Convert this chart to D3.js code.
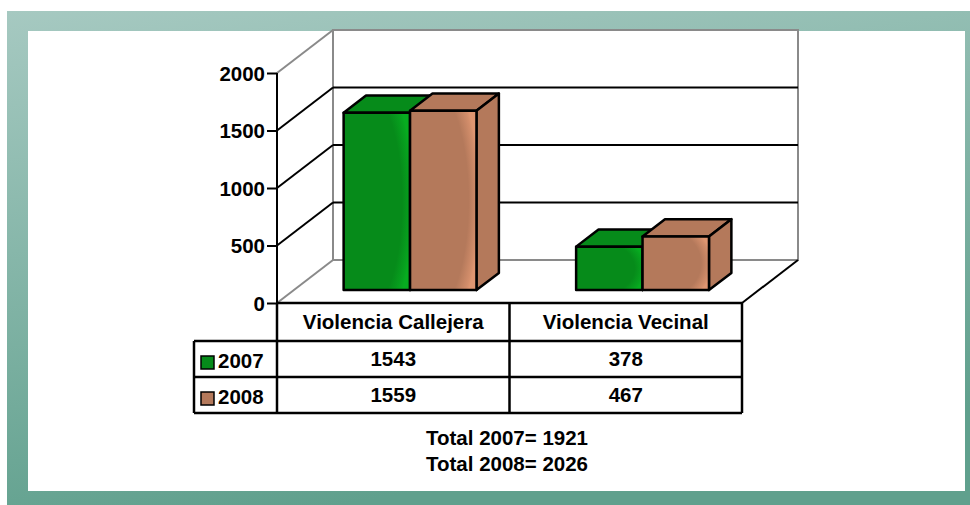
<!DOCTYPE html>
<html>
<head>
<meta charset="utf-8">
<script src="https://cdn.jsdelivr.net/npm/d3@7/dist/d3.min.js"></script>
<style>
body { margin: 0; background: #fff; }
svg text { font-family: Arial, "Liberation Sans", sans-serif; font-weight: bold; fill: #000; }
</style>
</head>
<body>
<script>
const categories = ["Violencia Callejera", "Violencia Vecinal"];
const series = ["2007", "2008"];
const values2007 = [1543, 378];
const values2008 = [1559, 467];
const yTicks = [0, 500, 1000, 1500, 2000];
const seriesColors = ["#068b1a", "#b4795b"];

const width = 970, height = 505;
const xLeft = 277, xRight = 742, yBottom = 303, yTopPx = 73;
const depthX = 56, depthY = 43;
const rows = [values2007, values2008];

const svg = d3.select("body").append("svg")
    .attr("width", width)
    .attr("height", height);

const defs = svg.append("defs");

// frame gradient
const frameGrad = defs.append("linearGradient")
    .attr("id", "frameGrad")
    .attr("x1", 0).attr("y1", 0).attr("x2", 0.3).attr("y2", 1);
frameGrad.append("stop").attr("offset", "0%").attr("stop-color", "#a6c9c1");
frameGrad.append("stop").attr("offset", "100%").attr("stop-color", "#60a08d");

// soft sheen on bar front faces
seriesColors.forEach((c, i) => {
    let g = defs.append("radialGradient")
        .attr("id", "sheen" + i)
        .attr("cx", 0.2).attr("cy", 0.5).attr("r", 0.85);
    g.append("stop").attr("offset", "0%").attr("stop-color", c);
    g.append("stop").attr("offset", "80%").attr("stop-color", c);
    g.append("stop").attr("offset", "96%").attr("stop-color", d3.color(c).brighter(0.45));
    g.append("stop").attr("offset", "100%").attr("stop-color", d3.color(c).brighter(0.6));
});

svg.append("rect")
    .attr("x", 7).attr("y", 11)
    .attr("width", 970).attr("height", 500)
    .attr("fill", "url(#frameGrad)");

svg.append("rect")
    .attr("x", 28).attr("y", 31)
    .attr("width", 937).attr("height", 460)
    .attr("fill", "#fff");

// scales
const xCat = d3.scaleBand()
    .domain(categories)
    .range([xLeft, xRight]);

const xSer = d3.scaleBand()
    .domain(series)
    .range([0, xCat.bandwidth()])
    .paddingInner(0)
    .paddingOuter(0.75);

const y = d3.scaleLinear()
    .domain([0, 2000])
    .range([yBottom, yTopPx]);

// project a front-plane point back by depth z (0..1)
function proj(px, py, z) {
    return [px + z * depthX, py - z * depthY];
}

const gray = "#8a8a8a";
const chart = svg.append("g");

// floor and walls
const b0 = proj(xLeft, y(0), 1), b1 = proj(xRight, y(0), 1);
const t0 = proj(xLeft, y(2000), 1), t1 = proj(xRight, y(2000), 1);

chart.append("polygon")
    .attr("points", [t0, t1, b1, b0].join(" "))
    .attr("fill", "#fff")
    .attr("stroke", gray)
    .attr("stroke-width", 2);

// gridlines on back wall and side wall
yTicks.forEach(t => {
    let front = [xLeft, y(t)];
    let back = proj(xLeft, y(t), 1);
    let backR = proj(xRight, y(t), 1);
    let col = (t === 0 || t === 2000) ? gray : "#000";
    chart.append("line")
        .attr("x1", front[0]).attr("y1", front[1])
        .attr("x2", back[0]).attr("y2", back[1])
        .attr("stroke", col).attr("stroke-width", 2);
    if (t !== 0 && t !== 2000) {
        chart.append("line")
            .attr("x1", back[0]).attr("y1", back[1])
            .attr("x2", backR[0]).attr("y2", backR[1])
            .attr("stroke", "#000").attr("stroke-width", 2);
    }
});

// floor right edge
chart.append("line")
    .attr("x1", xRight).attr("y1", y(0))
    .attr("x2", b1[0]).attr("y2", b1[1])
    .attr("stroke", "#000").attr("stroke-width", 2);

// bars
const zFront = 0.3, zBack = 0.7;
categories.forEach((cat, ci) => {
    series.forEach((s, si) => {
        let v = rows[si][ci];
        let xa = xCat(cat) + xSer(s);
        let xb = xa + xSer.bandwidth();
        let f0 = proj(xa, y(0), zFront), f1 = proj(xb, y(0), zFront);
        let ft0 = proj(xa, y(v), zFront), ft1 = proj(xb, y(v), zFront);
        let bt0 = proj(xa, y(v), zBack), bt1 = proj(xb, y(v), zBack);
        let bb1 = proj(xb, y(0), zBack);
        let bar = chart.append("g")
            .attr("stroke", "#000")
            .attr("stroke-width", 2.5)
            .attr("stroke-linejoin", "round");
        bar.append("polygon")
            .attr("points", [ft0, bt0, bt1, ft1].join(" "))
            .attr("fill", seriesColors[si]);
        bar.append("polygon")
            .attr("points", [ft1, bt1, bb1, f1].join(" "))
            .attr("fill", seriesColors[si]);
        bar.append("rect")
            .attr("x", ft0[0]).attr("y", ft0[1])
            .attr("width", f1[0] - f0[0])
            .attr("height", f0[1] - ft0[1])
            .attr("fill", "url(#sheen" + si + ")");
    });
});

// y axis
chart.append("line")
    .attr("x1", xLeft).attr("y1", y(2000))
    .attr("x2", xLeft).attr("y2", y(0))
    .attr("stroke", "#000").attr("stroke-width", 2);

const yAxis = chart.append("g")
    .attr("transform", "translate(" + xLeft + ",0)")
    .call(d3.axisLeft(y).tickValues(yTicks).tickSize(10).tickPadding(2).tickFormat(d3.format("d")));
yAxis.select(".domain").remove();
yAxis.selectAll(".tick line").attr("stroke", "#000").attr("stroke-width", 2);
yAxis.selectAll(".tick text")
    .attr("font-size", 20.5)
    .attr("font-family", null)
    .attr("fill", "#000")
    .attr("dy", "0.35em");

// data table
const legendLeft = 194;
const rowY = [yBottom, 341, 377, 413];
const table = svg.append("g")
    .attr("stroke", "#000")
    .attr("stroke-width", 2.5);

table.append("line")
    .attr("x1", xLeft).attr("y1", rowY[0]).attr("x2", xRight).attr("y2", rowY[0]);
rowY.slice(1).forEach(ry => {
    table.append("line")
        .attr("x1", legendLeft).attr("y1", ry).attr("x2", xRight).attr("y2", ry);
});
table.append("line")
    .attr("x1", legendLeft).attr("y1", rowY[1]).attr("x2", legendLeft).attr("y2", rowY[3]);
[xLeft, xCat(categories[1]), xRight].forEach(vx => {
    table.append("line")
        .attr("x1", vx).attr("y1", rowY[0]).attr("x2", vx).attr("y2", rowY[3]);
});

svg.selectAll(".catLabel")
    .data(categories)
    .enter()
    .append("text")
    .attr("class", "catLabel")
    .attr("x", d => xCat(d) + xCat.bandwidth() / 2)
    .attr("y", 329)
    .attr("text-anchor", "middle")
    .attr("font-size", 20.5)
    .text(d => d);

series.forEach((s, si) => {
    let base = rowY[si + 1];
    svg.append("rect")
        .attr("x", 201).attr("y", base + 15)
        .attr("width", 13).attr("height", 13)
        .attr("fill", seriesColors[si])
        .attr("stroke", "#000")
        .attr("stroke-width", 1.5);
    svg.append("text")
        .attr("x", 218)
        .attr("y", base + 27)
        .attr("font-size", 20.5)
        .text(s);
    categories.forEach((cat, ci) => {
        svg.append("text")
            .attr("x", xCat(cat) + xCat.bandwidth() / 2)
            .attr("y", base + 25)
            .attr("text-anchor", "middle")
            .attr("font-size", 20.5)
            .text(rows[si][ci]);
    });
});

// totals
series.forEach((s, si) => {
    svg.append("text")
        .attr("x", 507)
        .attr("y", 445 + si * 26)
        .attr("text-anchor", "middle")
        .attr("font-size", 20.5)
        .text("Total " + s + "= " + d3.sum(rows[si]));
});
</script>
</body>
</html>
